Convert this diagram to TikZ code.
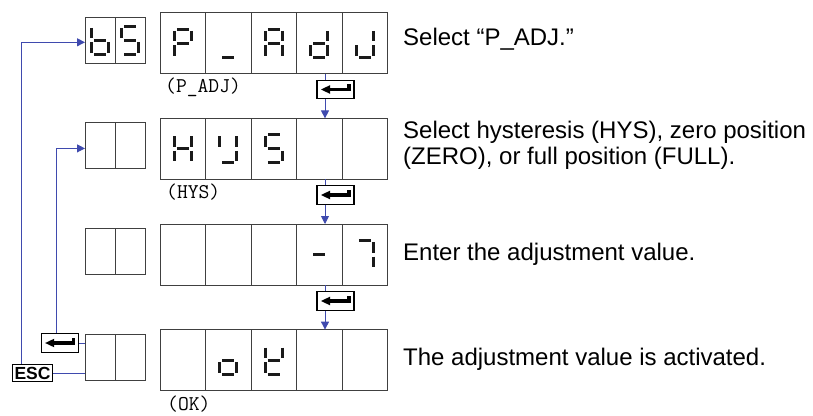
\documentclass[tikz,border=0pt]{standalone}
\usepackage{fontspec}
\setmainfont{Liberation Sans}
\usepackage{xcolor}
\definecolor{linkblue}{HTML}{3F4AAE}
\definecolor{segdark}{HTML}{1A1A1A}
\usepackage{tikz}
\usetikzlibrary{positioning,arrows.meta,calc}

% seven segment pieces, offsets from the cell centre (y runs down)
\newcommand\segpa{(-6,-14) -- (6,-14)}
\newcommand\segpb{(8.5,-12.5) -- (8.5,-2)}
\newcommand\segpc{(8.5,2) -- (8.5,12.5)}
\newcommand\segpd{(-6,14) -- (6,14)}
\newcommand\segpe{(-8.5,2) -- (-8.5,12.5)}
\newcommand\segpf{(-8.5,-12.5) -- (-8.5,-2)}
\newcommand\segpg{(-6,0) -- (6,0)}
\newcommand\drawdigit[2]{%
  \foreach \s in {#2} {
    \edef\segpath{\csname segp\s\endcsname}
    \draw[segment, shift={(#1)}] \segpath;
  }}
\newcommand\enterkey[2]{%
  \node[keybox] (#1) at (#2) {};
  \fill[shift={(#1)}] (-14.5,0) -- (-5.5,-4.3) -- (-5.5,4.3) -- cycle;
  \draw[line width=3.2pt, shift={(#1)}] (-6,0) -| (13.5,-5.5);
}

\begin{document}
\begin{tikzpicture}[x=1pt, y=-1pt,
    cell/.style={draw=black!75, line width=0.9pt, minimum width=45.5pt,
      minimum height=61pt, inner sep=0pt, outer sep=0pt},
    smallcell/.style={cell, minimum width=30.3pt, minimum height=46pt},
    segment/.style={draw=segdark, line width=3pt},
    keybox/.style={draw=black, line width=1.3pt, fill=white, minimum width=37pt,
      minimum height=18.5pt, inner sep=0pt},
    link/.style={draw=linkblue, line width=0.9pt},
    tip/.style={-{Triangle[length=8pt, width=8pt]}},
    tag/.style={font=\ttfamily\fontsize{21}{21}\selectfont, inner sep=0pt, anchor=west},
    note/.style={font=\fontsize{24}{26}\selectfont, inner sep=0pt, anchor=base west, align=left}]
  \useasboundingbox (0,0) rectangle (813,415);

  % display rows
  \foreach \r/\y in {1/43.3, 2/148.9, 3/254.5, 4/360.1} {
    \foreach \k in {1,...,5}
      \node[cell] (b\r-\k) at (137.25+45.5*\k, \y) {};
    \node[smallcell] (s\r-1) at (100.15, \y-3) {};
    \node[smallcell] (s\r-2) at (130.45, \y-3) {};
  }

  % characters
  \drawdigit{s1-1}{c,d,e,f,g}
  \drawdigit{s1-2}{a,c,d,f,g}
  \drawdigit{b1-1}{a,b,e,f,g}
  \drawdigit{b1-2}{d}
  \drawdigit{b1-3}{a,b,c,e,f,g}
  \drawdigit{b1-4}{b,c,d,e,g}
  \drawdigit{b1-5}{b,c,d,e}
  \drawdigit{b2-1}{b,c,e,f,g}
  \drawdigit{b2-2}{b,c,d,f}
  \drawdigit{b2-3}{a,c,d,f,g}
  \drawdigit{b3-4}{g}
  \drawdigit{b3-5}{a,b,c}
  \drawdigit{b4-2}{c,d,e,g}
  \drawdigit{b4-3}{b,d,e,f,g}

  \node[tag] (l1) at (165,87) {(P\_ADJ)};
  \node[tag] (l2) at (166,192) {(HYS)};
  \node[tag] (l4) at (167,404) {(OK)};

  % enter keys between the rows
  \enterkey{k1}{335.5,89.5}
  \enterkey{k2}{335.5,195}
  \enterkey{k3}{335.5,301}
  \foreach \r/\n in {1/2, 2/3, 3/4} {
    \coordinate (x\r) at ([xshift=-10.5pt]k\r.center);
    \draw[link] (x\r |- b\r-4.south) -- (x\r |- k\r.north);
    \draw[link, tip] (x\r |- k\r.south) -- (x\r |- b\n-4.north);
  }

  % keys back up
  \enterkey{kl}{59.7,343}
  \node[keybox, font=\bfseries\fontsize{17.5}{17.5}\selectfont, minimum width=39.6pt,
    minimum height=17.4pt] (esc) at (32.5,373) {ESC};
  \draw[link] (kl.east) -- (kl.east -| s4-1.west);
  \draw[link] (esc.east) -- (esc.east -| s4-1.west);
  \draw[link, tip] ([xshift=-3pt]kl.north) |- ([yshift=-2.5pt]s2-1.west);
  \draw[link, tip] ([xshift=-10.8pt]esc.north) |- ([yshift=-2pt]s1-1.west);

  % explanations
  \node[note] (t1) at (403,45) {Select “P\_ADJ.”};
  \node[note] (t2) at (403,164.3) {Select hysteresis (HYS), zero position\\(ZERO), or full position (FULL).};
  \node[note] (t3) at (403,260.3) {Enter the adjustment value.};
  \node[note] (t4) at (403,365.3) {The adjustment value is activated.};
\end{tikzpicture}
\end{document}
